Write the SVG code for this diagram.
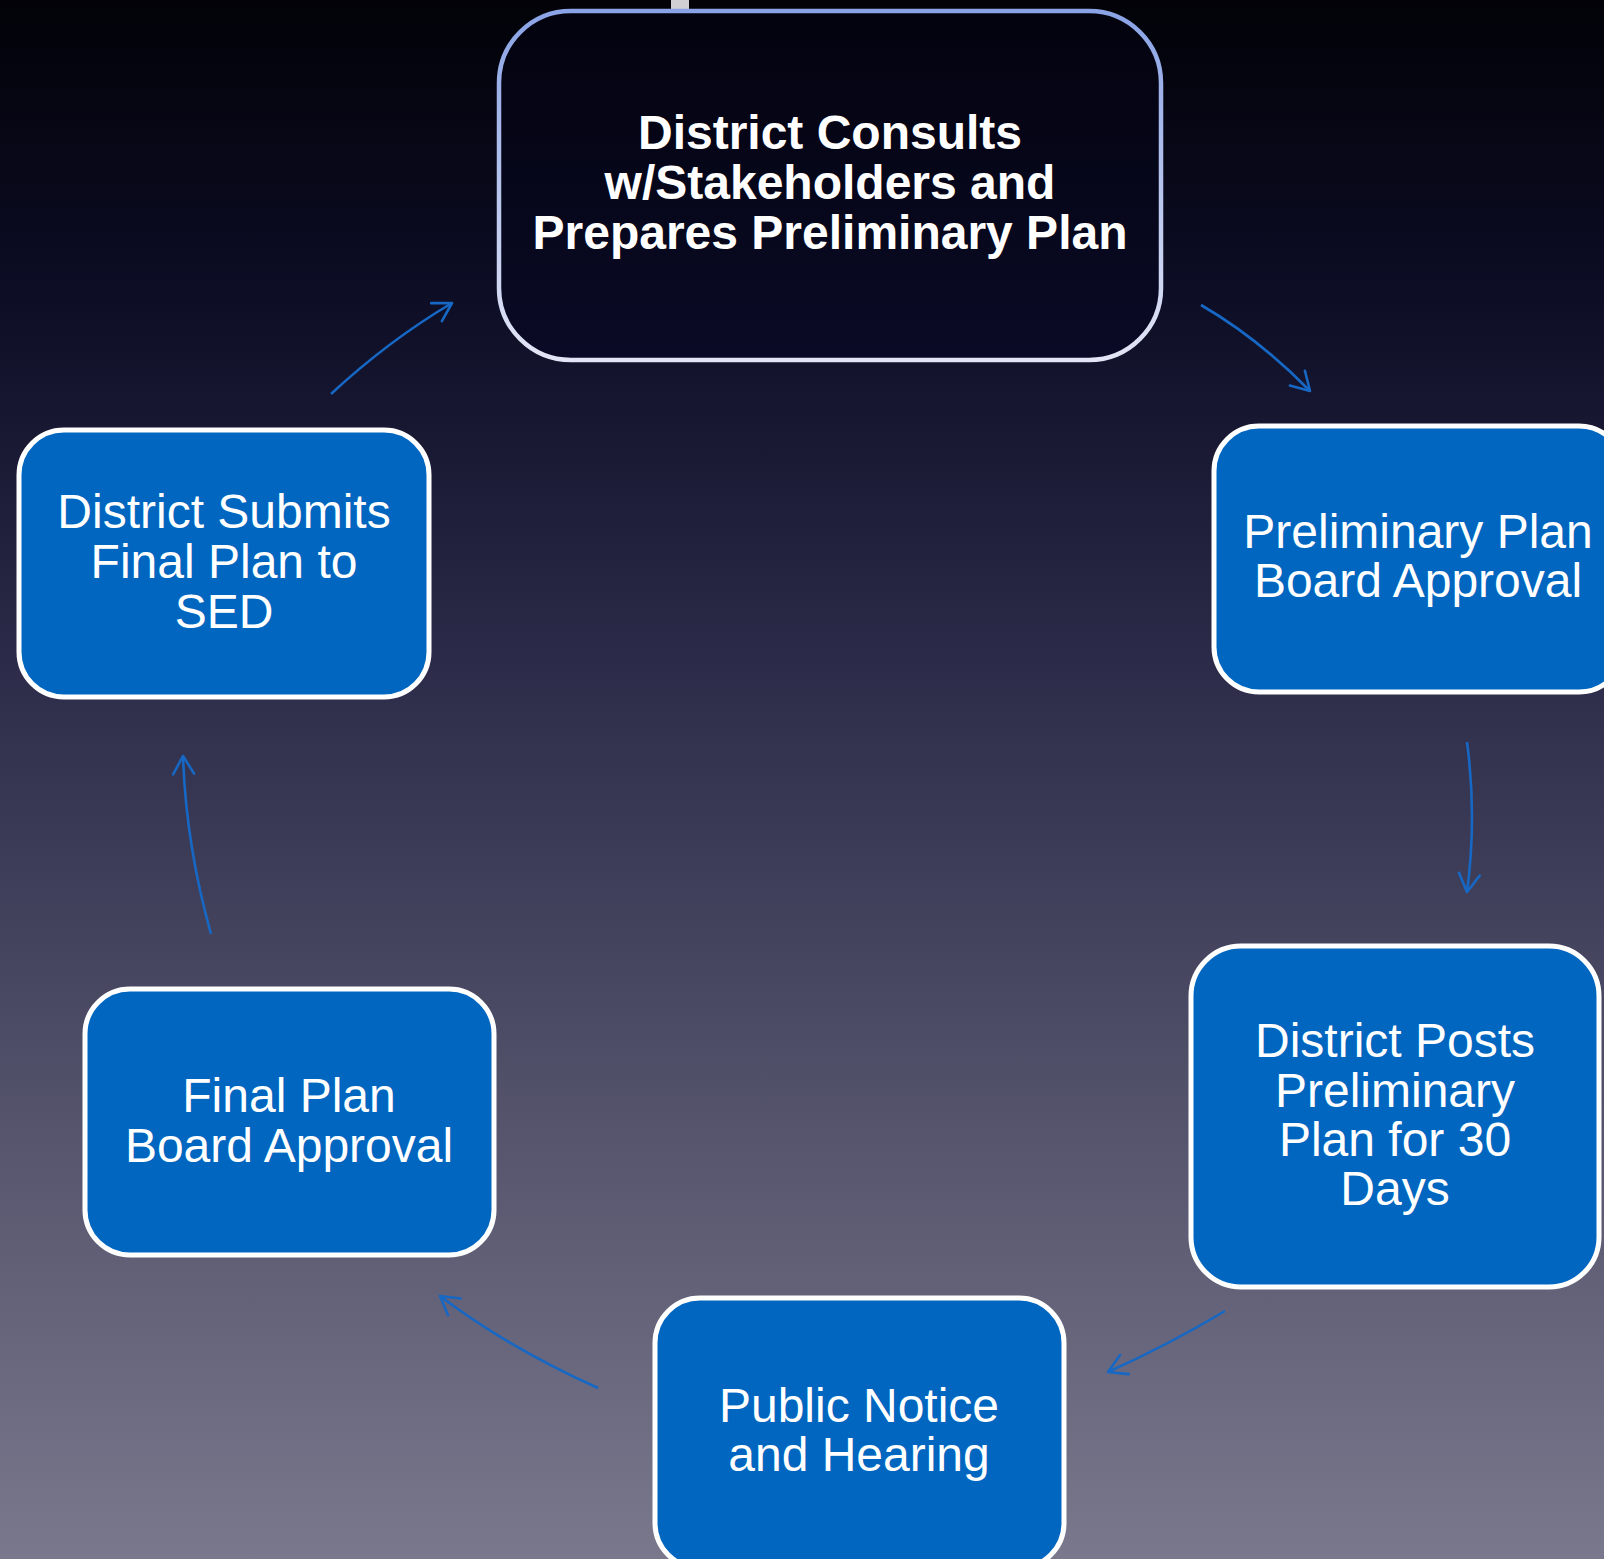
<svg xmlns="http://www.w3.org/2000/svg" width="1604" height="1559" viewBox="0 0 1604 1559">
  <defs>
    <linearGradient id="bg" x1="0" y1="0" x2="0" y2="1">
      <stop offset="0" stop-color="#020208"/>
      <stop offset="0.18" stop-color="#0c0c24"/>
      <stop offset="0.42" stop-color="#2b2a48"/>
      <stop offset="0.7" stop-color="#52516a"/>
      <stop offset="1" stop-color="#7a788c"/>
    </linearGradient>
    <linearGradient id="topStroke" x1="0" y1="0" x2="0" y2="1">
      <stop offset="0" stop-color="#8aa3e6"/>
      <stop offset="1" stop-color="#e2e5f5"/>
    </linearGradient>
    <linearGradient id="topFill" x1="0" y1="0" x2="0" y2="1">
      <stop offset="0" stop-color="#03030f"/>
      <stop offset="1" stop-color="#0a0a26"/>
    </linearGradient>
    <marker id="arr" viewBox="-22 -13 26 26" refX="0" refY="0" markerWidth="26" markerHeight="26" markerUnits="userSpaceOnUse" orient="auto">
      <path d="M-18,-10.5 L0,0 L-18,10.5" fill="none" stroke="#1668c4" stroke-width="2.6" stroke-linecap="round" stroke-linejoin="round"/>
    </marker>
    <style>
      .box { fill: #0066c0; stroke: #ffffff; stroke-width: 5; }
      .lbl { fill: #ffffff; font-family: "Liberation Sans", Arial, sans-serif; font-size: 48px; text-anchor: middle; }
      .title { fill: #ffffff; font-family: "Liberation Sans", Arial, sans-serif; font-size: 48px; font-weight: bold; text-anchor: middle; }
      .conn { fill: none; stroke: #1668c4; stroke-width: 2.6; marker-end: url(#arr); }
    </style>
  </defs>

  <rect x="0" y="0" width="1604" height="1559" fill="url(#bg)"/>
  <rect x="671" y="0" width="18" height="9" fill="#cfcfd4"/>

  <g id="connectors">
    <path class="conn" d="M1201,305 Q1258,338 1310,391"/>
    <path class="conn" d="M1467,742 Q1477,817 1467,892"/>
    <path class="conn" d="M1225,1311 Q1170,1344 1108,1372"/>
    <path class="conn" d="M598,1388 Q509,1348 440,1296"/>
    <path class="conn" d="M211,934 Q186,845 183,756"/>
    <path class="conn" d="M331,394 Q388,341 452,303"/>
  </g>

  <g id="node-consults">
    <rect x="499" y="11" width="662" height="349" rx="72" ry="72" fill="url(#topFill)" stroke="url(#topStroke)" stroke-width="4.5"/>
    <text class="title" x="830" y="149">District Consults</text>
    <text class="title" x="830" y="199">w/Stakeholders and</text>
    <text class="title" x="830" y="249">Prepares Preliminary Plan</text>
  </g>

  <g id="node-prelim-approval">
    <rect class="box" x="1214" y="426" width="410" height="266" rx="45" ry="45"/>
    <text class="lbl" x="1418" y="548">Preliminary Plan</text>
    <text class="lbl" x="1418" y="597">Board Approval</text>
  </g>

  <g id="node-posts">
    <rect class="box" x="1191" y="946" width="408" height="341" rx="50" ry="50"/>
    <text class="lbl" x="1395" y="1057">District Posts</text>
    <text class="lbl" x="1395" y="1107">Preliminary</text>
    <text class="lbl" x="1395" y="1156">Plan for 30</text>
    <text class="lbl" x="1395" y="1205">Days</text>
  </g>

  <g id="node-public">
    <rect class="box" x="655" y="1298" width="409" height="270" rx="45" ry="45"/>
    <text class="lbl" x="859" y="1422">Public Notice</text>
    <text class="lbl" x="859" y="1471">and Hearing</text>
  </g>

  <g id="node-final-approval">
    <rect class="box" x="85" y="989" width="409" height="266" rx="45" ry="45"/>
    <text class="lbl" x="289" y="1112">Final Plan</text>
    <text class="lbl" x="289" y="1162">Board Approval</text>
  </g>

  <g id="node-submits">
    <rect class="box" x="19" y="430" width="410" height="267" rx="45" ry="45"/>
    <text class="lbl" x="224" y="528">District Submits</text>
    <text class="lbl" x="224" y="578">Final Plan to</text>
    <text class="lbl" x="224" y="628">SED</text>
  </g>
</svg>
